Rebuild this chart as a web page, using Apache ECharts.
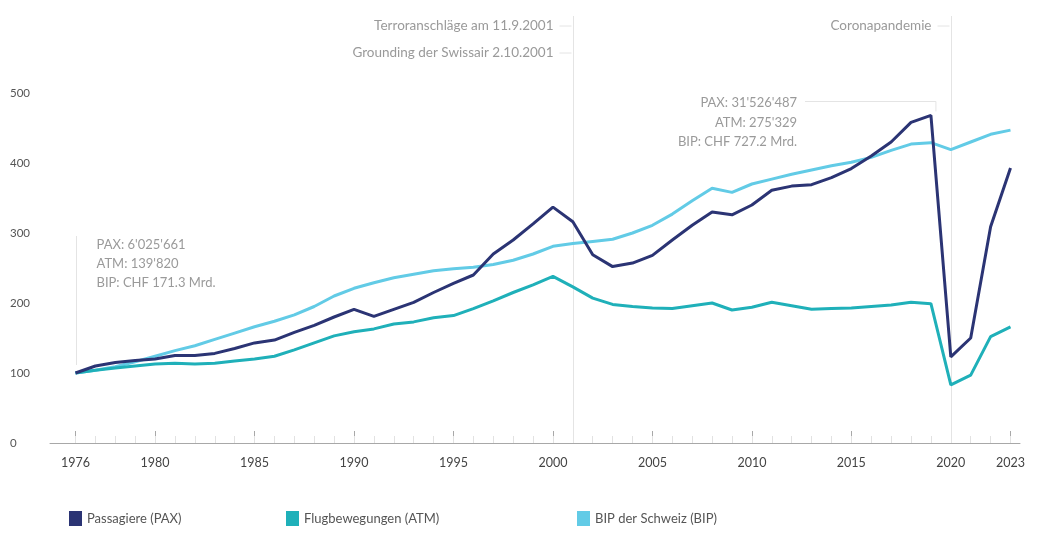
<!DOCTYPE html>
<html>
<head>
<meta charset="utf-8">
<script src="https://cdn.jsdelivr.net/npm/echarts@6/dist/echarts.min.js"></script>
<style>
html,body{margin:0;padding:0;background:#fff;}
#chart{width:1055px;height:536px;}
</style>
</head>
<body>
<div id="chart"></div>
<script>
const years = [1976,1977,1978,1979,1980,1981,1982,1983,1984,1985,1986,1987,1988,1989,1990,1991,1992,1993,1994,1995,1996,1997,1998,1999,2000,2001,2002,2003,2004,2005,2006,2007,2008,2009,2010,2011,2012,2013,2014,2015,2016,2017,2018,2019,2020,2021,2022,2023];
const paxValues = [100,110,115,118,120,125,125,128,135,143,147,158,168,180,191,181,191,201,215,228,240,270,290,313,337,316,269,252,257,268,290,311,330,326,340,361,367,369,379,392,410,430,458,468,123,150,309,393];
const atmValues = [100,104,107,110,113,114,113,114,117,120,124,133,143,153,159,163,170,173,179,182,192,203,215,226,238,223,207,198,195,193,192,196,200,190,194,201,196,191,192,193,195,197,201,199,83,97,152,166];
const bipValues = [100,104,109,116,124,132,139,148,157,166,174,183,195,210,221,229,236,241,246,249,251,255,261,270,281,285,288,291,300,311,327,346,364,358,370,377,384,390,396,401,408,418,427,429,419,430,441,447];
const xTickLabels = [1976,1980,1985,1990,1995,2000,2005,2010,2015,2020,2023];
const seriesNames = ['Passagiere (PAX)','Flugbewegungen (ATM)','BIP der Schweiz (BIP)'];
const eventYears = [2001, 2020];
const eventTexts = [['Terroranschläge am 11.9.2001','Grounding der Swissair 2.10.2001'],['Coronapandemie']];
const note1976 = ["PAX: 6'025'661","ATM: 139'820","BIP: CHF 171.3 Mrd."];
const note2019 = ["PAX: 31'526'487","ATM: 275'329","BIP: CHF 727.2 Mrd."];

const C_PAX = '#2b3474', C_ATM = '#1fb0b9', C_BIP = '#62cbe6';
const FONT = 'Lato, "Noto Sans", sans-serif';

const pairs = vals => years.map((y,i)=>[y, vals[i]]);

const chart = echarts.init(document.getElementById('chart'), null, {renderer:'canvas'});

function legendAt(left, name){
  return {left:left, top:506, itemWidth:13, itemHeight:15, icon:'rect', data:[name],
    textStyle:{color:'#555', fontSize:13, fontFamily:FONT}, selectedMode:false};
}

const option = {
  backgroundColor:'#ffffff',
  animation:false,
  grid:{left:50, right:35, top:93, bottom:93},
  legend:[legendAt(64, seriesNames[0]), legendAt(281, seriesNames[1]), legendAt(572, seriesNames[2])],
  xAxis:[{
    type:'value', min:1974.718, max:2023.4775,
    axisLine:{show:true, lineStyle:{color:'#a8a8a8', width:1}},
    axisTick:{show:true, inside:true, length:12, customValues:xTickLabels, lineStyle:{color:'#a8a8a8'}},
    axisLabel:{customValues:xTickLabels, margin:13, color:'#444', fontSize:12.5, fontFamily:FONT, formatter:v=>String(v)},
    splitLine:{show:false}
  },{
    type:'value', min:1974.718, max:2023.4775, position:'bottom',
    axisLine:{show:false},
    axisTick:{show:true, inside:true, length:7, customValues:years, lineStyle:{color:'#e2e2e2'}},
    axisLabel:{show:false}, splitLine:{show:false}
  }],
  yAxis:{
    type:'value', min:0, max:500, interval:100,
    axisLine:{show:false}, axisTick:{show:false}, splitLine:{show:false},
    axisLabel:{align:'left', margin:40, color:'#555', fontSize:11.5, fontFamily:FONT, padding:[0,0,11,0]}
  },
  series:[
    {name:seriesNames[2], type:'line', data:pairs(bipValues), symbol:'none', lineStyle:{color:C_BIP, width:3}, itemStyle:{color:C_BIP}, z:2},
    {name:seriesNames[1], type:'line', data:pairs(atmValues), symbol:'none', lineStyle:{color:C_ATM, width:3}, itemStyle:{color:C_ATM}, z:3},
    {name:seriesNames[0], type:'line', data:pairs(paxValues), symbol:'none', lineStyle:{color:C_PAX, width:3}, itemStyle:{color:C_PAX}, z:4}
  ]
};
chart.setOption(option);

const px = (x,y)=>chart.convertToPixel({xAxisIndex:0, yAxisIndex:0},[x,y]);
const axisY = px(2000,0)[1];
const gfx = [];
const noteStyle = {fill:'#9a9a9a', fontSize:13, fontFamily:FONT};
const lineCol = '#e4e4e4';

// event lines
eventYears.forEach((yr, k)=>{
  const x = Math.round(px(yr,0)[0]) + 0.5;
  gfx.push({type:'line', shape:{x1:x, y1:16, x2:x, y2:axisY}, style:{stroke:lineCol, lineWidth:1}, z:1});
  eventTexts[k].forEach((t,j)=>{
    const ty = 26 + j*27;
    gfx.push({type:'text', x:x-20, y:ty, style:Object.assign({text:t, textAlign:'right', textVerticalAlign:'middle'}, noteStyle, {fontSize:13.5}), z:5});
    gfx.push({type:'line', shape:{x1:x-14, y1:ty, x2:x-2, y2:ty}, style:{stroke:lineCol, lineWidth:1}, z:1});
  });
});

// 1976 note
const p76 = px(1976, paxValues[0]);
gfx.push({type:'line', shape:{x1:Math.round(p76[0])+0.5, y1:236, x2:Math.round(p76[0])+0.5, y2:p76[1]-8}, style:{stroke:lineCol, lineWidth:1}, z:1});
note1976.forEach((t,j)=>{
  gfx.push({type:'text', x:p76[0]+21, y:245+j*19, style:Object.assign({text:t, textAlign:'left', textVerticalAlign:'middle'}, noteStyle), z:5});
});

// 2019 note
const p19 = px(2019, paxValues[43]);
const hy = 101.5;
gfx.push({type:'line', shape:{x1:805, y1:hy, x2:p19[0]+5, y2:hy}, style:{stroke:lineCol, lineWidth:1}, z:1});
gfx.push({type:'line', shape:{x1:p19[0]+5, y1:hy, x2:p19[0]+5, y2:p19[1]-4}, style:{stroke:lineCol, lineWidth:1}, z:1});
note2019.forEach((t,j)=>{
  gfx.push({type:'text', x:797, y:103+j*19.5, style:Object.assign({text:t, textAlign:'right', textVerticalAlign:'middle'}, noteStyle), z:5});
});

chart.setOption({graphic:gfx});
</script>
</body>
</html>
